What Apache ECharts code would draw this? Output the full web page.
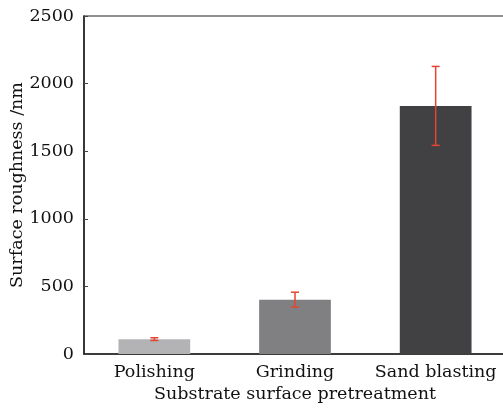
<!DOCTYPE html>
<html>
<head>
<meta charset="utf-8">
<script src="https://cdn.jsdelivr.net/npm/echarts@6/dist/echarts.min.js"></script>
<style>html,body{margin:0;padding:0;background:#fff;}#c{width:503px;height:409px;}</style>
</head>
<body>
<div id="c"></div>
<script>
const categories = ["Polishing", "Grinding", "Sand blasting"];
const roughness = [110, 402, 1835];
const errors = [10, 55, 292];
const barColors = ["#b3b3b5", "#808083", "#414143"];
const yTicks = [0, 500, 1000, 1500, 2000, 2500];

const chart = echarts.init(document.getElementById('c'));
const font = '"DejaVu Serif", "Liberation Serif", serif';
chart.setOption({
  animation: false,
  grid: { left: 84, top: 16, width: 422, height: 338, outerBoundsMode: 'none', containLabel: false, show: true, borderColor: '#222', borderWidth: 1.2, backgroundColor: 'transparent' },
  xAxis: {
    type: 'category',
    data: categories,
    axisLine: { lineStyle: { color: '#222', width: 1.5 } },
    axisTick: { show: false },
    axisLabel: { color: '#111', fontFamily: font, fontSize: 17.5, margin: 9, interval: 0 },
    name: 'Substrate surface pretreatment',
    nameLocation: 'middle',
    nameGap: 31,
    nameMoveOverlap: false,
    nameTextStyle: { color: '#111', fontFamily: font, fontSize: 17.5 }
  },
  yAxis: {
    type: 'value',
    min: yTicks[0], max: yTicks[yTicks.length - 1], interval: 500,
    axisLine: { show: true, lineStyle: { color: '#222', width: 1.5 } },
    axisTick: { show: true, inside: true, length: 4, lineStyle: { color: '#444' } },
    splitLine: { show: false },
    axisLabel: { color: '#111', fontFamily: font, fontSize: 17.5, margin: 10, formatter: v => String(v) },
    name: 'Surface roughness /nm',
    nameLocation: 'middle',
    nameGap: 58,
    nameMoveOverlap: false,
    nameTextStyle: { color: '#111', fontFamily: font, fontSize: 17.5 }
  },
  series: [
    {
      type: 'bar',
      barWidth: '51%',
      data: roughness.map((v, i) => ({ value: v, itemStyle: { color: barColors[i] } }))
    },
    {
      type: 'custom',
      z: 10,
      data: roughness.map((v, i) => [i, v - errors[i], v + errors[i]]),
      renderItem: function (params, api) {
        const x = api.coord([api.value(0), 0])[0];
        const lo = api.coord([api.value(0), api.value(1)])[1];
        const hi = api.coord([api.value(0), api.value(2)])[1];
        const w = 4;
        const style = { stroke: '#e5452f', lineWidth: 1.5 };
        return {
          type: 'group',
          children: [
            { type: 'line', shape: { x1: x, y1: lo, x2: x, y2: hi }, style: style },
            { type: 'line', shape: { x1: x - w, y1: lo, x2: x + w, y2: lo }, style: style },
            { type: 'line', shape: { x1: x - w, y1: hi, x2: x + w, y2: hi }, style: style }
          ]
        };
      }
    }
  ]
});
</script>
</body>
</html>
